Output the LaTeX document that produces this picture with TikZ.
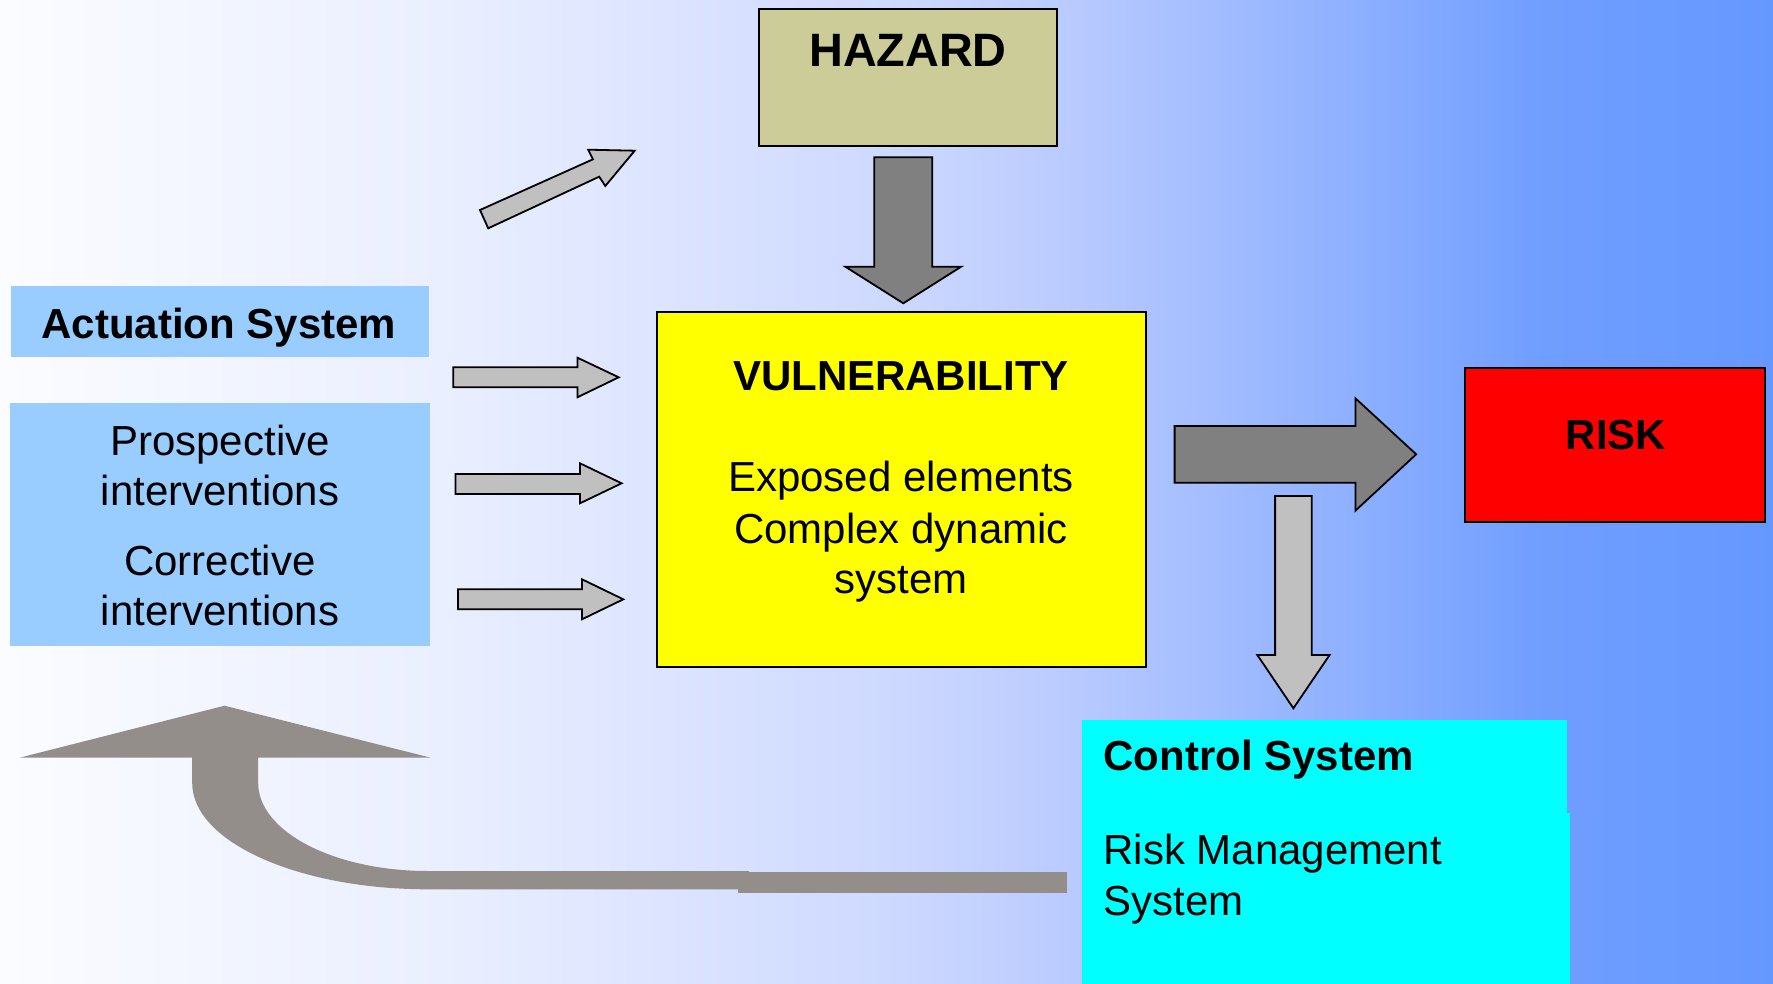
\documentclass[tikz,border=0pt]{standalone}
\usepackage{fontspec}
\setmainfont{Liberation Sans}
\definecolor{bgA}{RGB}{251,252,255}
\definecolor{bgB}{RGB}{234,239,255}
\definecolor{bgC}{RGB}{206,217,255}
\definecolor{bgD}{RGB}{186,203,255}
\definecolor{bgE}{RGB}{145,178,255}
\definecolor{bgF}{RGB}{112,158,255}
\definecolor{bgG}{RGB}{101,152,255}
\definecolor{hazardfill}{RGB}{204,204,153}
\definecolor{actfill}{RGB}{153,204,255}
\definecolor{arrowdark}{RGB}{128,128,128}
\definecolor{arrowlight}{RGB}{192,192,192}
\definecolor{curvegray}{RGB}{148,142,138}
\definecolor{pureyellow}{RGB}{255,255,0}
\definecolor{purered}{RGB}{255,0,0}
\definecolor{purecyan}{RGB}{0,255,255}
\pgfdeclarehorizontalshading{bgshade}{100bp}{color(0bp)=(bgA); color(25bp)=(bgA); color(37.5bp)=(bgB); color(50bp)=(bgC); color(55bp)=(bgD); color(62.5bp)=(bgE); color(68.5bp)=(bgF); color(75bp)=(bgG); color(100bp)=(bgG)}
\tikzset{
  box/.style={rectangle, anchor=north west, inner sep=0pt, outer sep=0pt},
  outlined/.style={draw=black, line width=1pt},
  darkarrow/.style={draw=black, line width=0.9pt, fill=arrowdark, line join=miter},
  lightarrow/.style={draw=black, line width=0.9pt, fill=arrowlight, line join=miter},
  txt/.style={font=\fontsize{21}{25}\selectfont, inner sep=0pt, anchor=base},
  btxt/.style={font=\fontsize{21}{25}\selectfont\bfseries, inner sep=0pt, anchor=base},
}
\begin{document}
\begin{tikzpicture}[x=0.5pt, y=-0.5pt]
\useasboundingbox (0,0) rectangle (1773,984);
\shade[shading=bgshade] (0,0) rectangle (1773,984);

% boxes
\node[box, outlined, fill=hazardfill, minimum width=149pt, minimum height=68.35pt] (hazardbox) at (759,9.3) {};
\node[box, fill=actfill, minimum width=209pt, minimum height=35.5pt] (actbox) at (11,285.7) {};
\node[box, fill=actfill, minimum width=210pt, minimum height=121.2pt] (interbox) at (10,403.3) {};
\node[box, outlined, fill=pureyellow, minimum width=244.5pt, minimum height=177.5pt] (vulnbox) at (656.5,311.7) {};
\node[box, outlined, fill=purered, minimum width=150pt, minimum height=76.7pt] (riskbox) at (1465,368.3) {};
\node[box, fill=purecyan, minimum width=242.6pt, minimum height=132pt] (ctrlbox) at (1081.7,720) {};
\node[box, fill=purecyan, minimum width=244.2pt, minimum height=85.4pt] (ctrlboxlow) at (1081.7,813.3) {};

% texts
\node[btxt, font=\fontsize{23.4}{28}\selectfont\bfseries] (hazard) at (908,66.7) {HAZARD};
\node[btxt] (act) at (219,338.3) {Actuation System};
\node[txt] (pros1) at (220,455) {Prospective};
\node[txt] (pros2) at (220,505) {interventions};
\node[txt] (corr1) at (220,575) {Corrective};
\node[txt] (corr2) at (220,625) {interventions};
\node[btxt] (vuln) at (901,390) {VULNERABILITY};
\node[txt] (vuln1) at (901,491.7) {Exposed elements};
\node[txt] (vuln2) at (901,543.3) {Complex dynamic};
\node[txt] (vuln3) at (901,593.3) {system};
\node[btxt] (risk) at (1616,449.3) {RISK};
\node[btxt, anchor=base west] (ctrl) at (1103,770.7) {Control System};
\node[txt, anchor=base west] (rms1) at (1103,864) {Risk Management};
\node[txt, anchor=base west] (rms2) at (1103,915) {System};

% hazard -> vulnerability
\draw[darkarrow] (874.3,157.3) -- (932.2,157.3) -- (932.2,266.7) -- (961.2,266.7)
  -- (903.3,303.3) -- (845.3,266.7) -- (874.3,266.7) -- cycle;
% vulnerability -> risk
\draw[darkarrow] (1174.6,426) -- (1355.4,426) -- (1355.4,398.3) -- (1416.2,454.3)
  -- (1355.4,510.7) -- (1355.4,482.7) -- (1174.6,482.7) -- cycle;
% down to control system
\draw[lightarrow] (1275.1,496) -- (1311.7,496) -- (1311.7,655) -- (1329.6,655)
  -- (1293.4,708.3) -- (1257.3,655) -- (1275.1,655) -- cycle;
% three actuation arrows
\draw[lightarrow] (453.3,367.3) -- (577.4,367.3) -- (577.4,357.7) -- (618.7,377.3)
  -- (577.4,397.3) -- (577.4,387.3) -- (453.3,387.3) -- cycle;
\draw[lightarrow] (455.4,474) -- (580,474) -- (580,463.3) -- (621.6,483.3)
  -- (580,503.3) -- (580,494) -- (455.4,494) -- cycle;
\draw[lightarrow] (457.9,589.3) -- (582,589.3) -- (582,579.3) -- (623.3,599.3)
  -- (582,619.3) -- (582,609.3) -- (457.9,609.3) -- cycle;
% diagonal arrow toward hazard
\draw[lightarrow] (480,210) -- (593,159.3) -- (588.2,149.7) -- (634.7,150.7)
  -- (605.3,186) -- (599.2,176.7) -- (488.2,228.3) -- cycle;

% feedback curved arrow
\fill[curvegray] (749,871) -- (428,871)
  .. controls (334.1,871) and (258.2,831.6) .. (258.2,783)
  -- (258.2,757.7) -- (430.7,757.7) -- (224.5,705.7) -- (19.6,757.7) -- (192.2,757.7)
  -- (192.2,783)
  .. controls (192.2,841.7) and (297.8,889.3) .. (428,889.3)
  -- (749,889.3) -- cycle;
\fill[curvegray] (738,872) rectangle (1067,892.7);
\end{tikzpicture}
\end{document}
